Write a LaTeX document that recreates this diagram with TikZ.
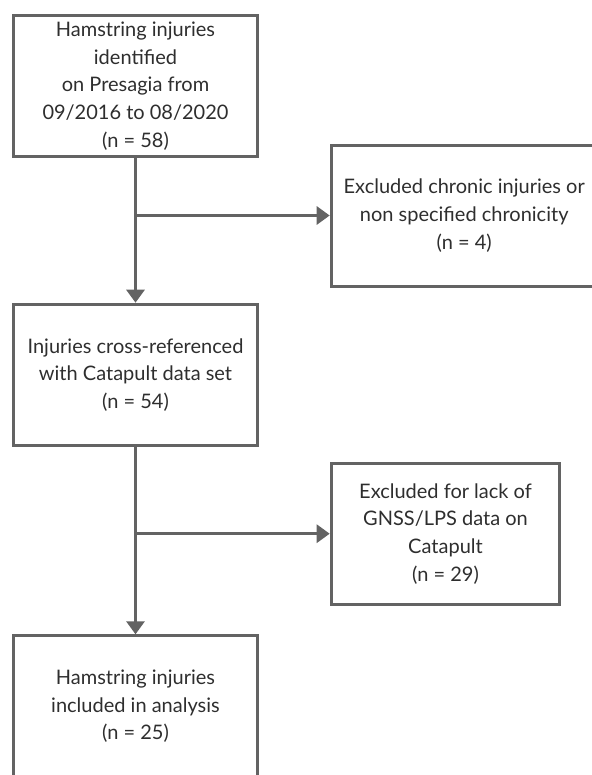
\documentclass[tikz,border=0pt]{standalone}
\usepackage{fontspec}
\setmainfont{Lato}
\usepackage{tikz}
\usetikzlibrary{positioning, arrows.meta}
\usepackage{xcolor}
\definecolor{boxgray}{HTML}{636363}
\definecolor{textgray}{HTML}{2E2E2E}

\tikzset{
  flowbox/.style={draw=boxgray, line width=3bp, minimum height=141bp, inner sep=0pt,
    align=center, text=textgray, font=\fontsize{20bp}{27.6bp}\selectfont},
  flowarrow/.style={draw=boxgray, line width=3bp, -{Triangle[length=13bp, width=18bp]}}
}

\begin{document}
\begin{tikzpicture}[x=1bp, y=-1bp]
  \useasboundingbox (0,0) rectangle (592,775);
  \clip (0,0) rectangle (592,775);
  % Main column
  \node[flowbox, minimum width=243bp] (identified) at (135.5,86)
    {Hamstring injuries\\identified\\on Presagia from\\09/2016 to 08/2020\\(n = 58)};
  \node[flowbox, minimum width=243bp] (crossref) at (135.5,374.7)
    {Injuries cross-referenced\\with Catapult data set\\(n = 54)};
  \node[flowbox, minimum width=243bp] (included) at (135.5,706.3)
    {Hamstring injuries\\included in analysis\\(n = 25)};
  % Exclusions
  \node[flowbox, minimum width=266bp] (chronic) at (464.2,215.5)
    {Excluded chronic injuries or\\non specified chronicity\\(n = 4)};
  \node[flowbox, minimum width=228.6bp] (nognss) at (445.5,533.7)
    {Excluded for lack of\\GNSS/LPS data on\\Catapult\\(n = 29)};
  % Connectors
  \coordinate (split1) at (identified.south |- chronic.west);
  \coordinate (split2) at (crossref.south |- nognss.west);
  \draw[flowarrow] (identified) -- (crossref);
  \draw[flowarrow] (split1) -- (chronic);
  \draw[flowarrow] (crossref) -- (included);
  \draw[flowarrow] (split2) -- (nognss);
\end{tikzpicture}
\end{document}
